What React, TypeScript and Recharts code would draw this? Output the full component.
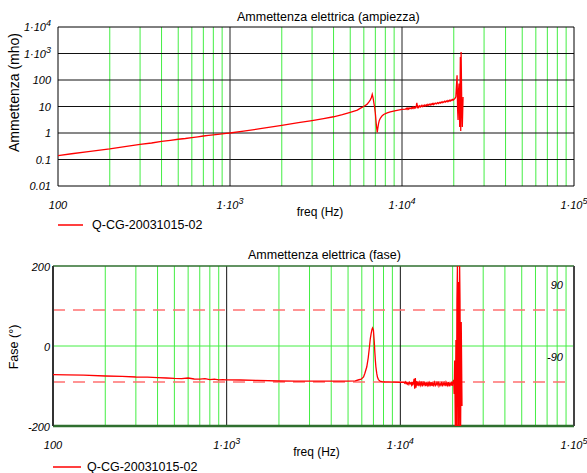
import { LineChart, Line, XAxis, YAxis, ReferenceLine, Legend } from "recharts";

const FONT = "'Liberation Sans', Arial, sans-serif";

const freqHz = [
  100, 120, 150, 200, 250, 300, 350, 400, 450, 500,
  550, 600, 650, 700, 750, 800, 850, 900, 950, 1000,
  1200, 1500, 2000, 2500, 3000, 3500, 4000, 4500, 5000, 5500,
  5710, 5950, 6140, 6250, 6410, 6531, 6640, 6714, 6790, 6870,
  6920, 7000, 7080, 7130, 7178, 7230, 7310, 7380, 7480, 7650,
  7820, 8200, 8550, 9200, 10000,
  10500, 10600, 10700, 10800, 10900, 11000, 11100, 11200, 11300, 11400,
  11500, 11600, 11700, 11800, 11900, 12000, 12100, 12200, 12300, 12400,
  12500, 12650, 12800, 12950, 13100, 13250, 13400, 13550, 13700, 13850,
  14000, 14150, 14300, 14450, 14600, 14750, 14900, 15050, 15200, 15350,
  15500, 15700, 15900, 16100, 16300, 16500, 16700, 16900, 17100, 17300,
  17500, 17700, 17900, 18100, 18300, 18500, 18700, 18900, 19100, 19300,
  19500, 19700, 19900,
  20000, 20280, 20420, 20560, 20730, 20900, 21050, 21180, 21320, 21460,
  21650, 21840, 21950, 22060, 22240, 22420, 22650,
];

const ampMho = [
  0.14, 0.165, 0.2, 0.25, 0.31, 0.37, 0.42, 0.48, 0.53, 0.58,
  0.62, 0.67, 0.72, 0.77, 0.81, 0.85, 0.89, 0.93, 0.97, 1.0,
  1.17, 1.45, 1.95, 2.45, 2.95, 3.5, 4.1, 4.9, 6.0, 7.3,
  8.5, 9.8, 11.2, 12, 14.5, 17.4, 22, 28.5, 21, 13,
  10, 5.5, 2.3, 1.5, 1.06, 1.5, 2.3, 3.0, 3.6, 4.4,
  5.0, 5.7, 6.3, 7.0, 7.8,
  8.0, 8.5, 7.8, 8.6, 8.0, 8.9, 8.2, 8.4, 9.0, 8.3,
  9.2, 8.6, 9.5, 8.7, 9.4, 8.9, 10.5, 13.8, 8.6, 10.2,
  9.3, 10.6, 9.6, 10.9, 9.9, 11.1, 10.2, 11.4, 10.5, 11.6,
  10.8, 12.0, 11.1, 12.2, 11.4, 12.6, 11.7, 12.9, 11.9, 13.2,
  12.3, 13.5, 12.6, 14.0, 13.0, 14.3, 13.4, 14.8, 13.8, 15.2,
  14.3, 15.8, 14.8, 16.3, 15.2, 16.8, 15.6, 17.3, 16.1, 17.8,
  16.7, 18.4, 17.6,
  18.5, 20, 21, 23, 60, 150, 8, 3.1, 40, 74,
  1.7, 740, 1.2, 1140, 17, 1.7, 23,
];

const phaseDeg = [
  -71.5, -72, -73, -75, -76, -77.5, -78, -79, -80, -81,
  -81.5, -80, -82.5, -83, -81.5, -84, -83, -84.5, -84, -84.5,
  -85, -86, -87.5, -88, -88, -88, -88, -88, -88, -87,
  -85, -83, -77.5, -68, -52, -30, -2.5, 18, 31, 42,
  45, 39, 10, -15, -35, -52, -68, -77.5, -84, -88,
  -89, -90, -90, -90.5, -91,
  -91, -93, -90, -94, -91, -95, -92, -96, -91, -94,
  -92, -97, -90, -96, -93, -82, -107, -80, -104, -88,
  -99, -90, -100, -91, -98, -89, -101, -92, -97, -90,
  -100, -93, -98, -89, -101, -92, -97, -90, -100, -93,
  -98, -91, -101, -92, -97, -89, -100, -94, -98, -90,
  -101, -93, -97, -91, -100, -92, -98, -90, -101, -93,
  -97, -89, -100,
  -93, -85, -120, -36, -200, 15, -200, 115, 200, -200,
  160, -200, 200, 114, -200, 60, -150,
];

const seriesName = "Q-CG-20031015-02";

const xTicks = [100, 1000, 10000, 100000];
const xTickBase = ["100", "1·10", "1·10", "1·10"];
const xTickExp = ["", "3", "4", "5"];

const ampTicks = [0.01, 0.1, 1, 10, 100, 1000, 10000];
const ampTickBase = ["0.01", "0.1", "1", "10", "100", "1·10", "1·10"];
const ampTickExp = ["", "", "", "", "", "3", "4"];

const phaseTicks = [-200, 0, 200];
const phaseTickBase = ["-200", "0", "200"];
const phaseTickExp = ["", "", ""];

const minorFreqs = [
  200, 300, 400, 500, 600, 700, 800, 900,
  2000, 3000, 4000, 5000, 6000, 7000, 8000, 9000,
  20000, 30000, 40000, 50000, 60000, 70000, 80000, 90000,
];
const decadeFreqs = [1000, 10000];
const ampDecades = [0.1, 1, 10, 100, 1000];
const phaseMarks = [90, -90];
const phaseMarkLabels = ["90", "-90"];

const ampData = freqHz.map((f, i) => ({ f, amp: ampMho[i] }));
const phaseData = freqHz.map((f, i) => ({ f, phase: phaseDeg[i] }));

function makeTick(values: number[], bases: string[], exps: string[], anchor: string, dx: number, dy: number) {
  return (props: any) => {
    const { x, y, payload } = props;
    const i = values.indexOf(payload.value);
    if (i < 0) return <g />;
    return (
      <text x={x + dx} y={y + dy} textAnchor={anchor} fontSize={11} fontStyle="italic" fill="#000" fontFamily={FONT}>
        {bases[i]}
        {exps[i] ? <tspan dy={-5} fontSize={9}>{exps[i]}</tspan> : null}
      </text>
    );
  };
}

function XTitle({ viewBox, text, dx, dy }: any) {
  if (!viewBox) return null;
  return (
    <text x={viewBox.x + viewBox.width / 2 + dx} y={viewBox.y + dy} textAnchor="middle" fontSize={12} fill="#000" fontFamily={FONT}>
      {text}
    </text>
  );
}

function YTitle({ viewBox, text, dy, size }: any) {
  if (!viewBox) return null;
  const cx = viewBox.x + 14;
  const cy = viewBox.y + viewBox.height / 2 + dy;
  return (
    <text x={cx} y={cy} transform={`rotate(-90 ${cx} ${cy})`} textAnchor="middle" dominantBaseline="central" fontSize={size} fill="#000" fontFamily={FONT}>
      {text}
    </text>
  );
}

function MarkLabel({ viewBox, text }: any) {
  if (!viewBox) return null;
  return (
    <text x={viewBox.x + viewBox.width - 11} y={viewBox.y - 21} textAnchor="end" fontSize={11} fontStyle="italic" fill="#000" fontFamily={FONT}>
      {text}
    </text>
  );
}

function legendContent(lineLen: number) {
  return (props: any) => {
    const item = props.payload && props.payload[0];
    if (!item) return null;
    return (
      <div style={{ display: "flex", alignItems: "center", height: 14, fontFamily: FONT, fontSize: 12.5 }}>
        <svg width={34} height={14}>
          <line x1={0} y1={7} x2={lineLen} y2={7} stroke={item.color} strokeWidth={1.5} />
        </svg>
        <span>{item.value}</span>
      </div>
    );
  };
}

const titleStyle = (left: number, top: number): any => ({
  position: "absolute",
  left,
  top,
  fontFamily: FONT,
  fontSize: 12.5,
  lineHeight: "14px",
  whiteSpace: "nowrap",
});

export default function App() {
  return (
    <div style={{ position: "absolute", left: 0, top: 0, width: 587, height: 473, background: "#fff", fontFamily: FONT }}>
      <div style={{ position: "absolute", left: 0, top: 0 }}>
        <LineChart width={587} height={240} data={ampData} margin={{ top: 27, right: 13, bottom: 24, left: 0 }}>
          <XAxis
            dataKey="f"
            type="number"
            scale="log"
            domain={[100, 100000]}
            ticks={xTicks}
            interval={0}
            allowDataOverflow
            height={30}
            tickLine={false}
            axisLine={false}
            tickSize={0}
            tick={makeTick(xTicks, xTickBase, xTickExp, "middle", 0, 21)}
            label={<XTitle text="freq (Hz)" dx={4} dy={30} />}
          />
          <YAxis
            type="number"
            scale="log"
            domain={[0.01, 10000]}
            ticks={ampTicks}
            interval={0}
            allowDataOverflow
            width={58}
            tickLine={false}
            axisLine={false}
            tickSize={0}
            tick={makeTick(ampTicks, ampTickBase, ampTickExp, "end", -5, 4)}
            label={<YTitle text="Ammettenza (mho)" dy={-14} size={14} />}
          />
          {minorFreqs.map((f) => (
            <ReferenceLine key={"m" + f} x={f} stroke="#44ee44" strokeWidth={1} />
          ))}
          {ampDecades.map((v) => (
            <ReferenceLine key={"h" + v} y={v} stroke="#111" strokeWidth={1} />
          ))}
          {decadeFreqs.map((f) => (
            <ReferenceLine key={"d" + f} x={f} stroke="#222" strokeWidth={1} />
          ))}
          <ReferenceLine x={100} stroke="#000" strokeWidth={1} />
          <ReferenceLine x={100000} stroke="#000" strokeWidth={1} />
          <ReferenceLine y={0.01} stroke="#000" strokeWidth={1} />
          <ReferenceLine y={10000} stroke="#000" strokeWidth={1} />
          <Line
            type="linear"
            dataKey="amp"
            name={seriesName}
            stroke="#ff0000"
            strokeWidth={1.3}
            dot={false}
            isAnimationActive={false}
          />
          <Legend
            layout="horizontal"
            verticalAlign="middle"
            align="center"
            wrapperStyle={{ top: 218, left: 58, width: 300 }}
            content={legendContent(25)}
          />
        </LineChart>
        <div style={titleStyle(237, 10)}>Ammettenza elettrica (ampiezza)</div>
      </div>
      <div style={{ position: "absolute", left: 0, top: 240 }}>
        <LineChart width={587} height={233} data={phaseData} margin={{ top: 26, right: 13, bottom: 17, left: 0 }}>
          <XAxis
            dataKey="f"
            type="number"
            scale="log"
            domain={[100, 100000]}
            ticks={xTicks}
            interval={0}
            allowDataOverflow
            height={30}
            tickLine={false}
            axisLine={false}
            tickSize={0}
            tick={makeTick(xTicks, xTickBase, xTickExp, "middle", 0, 21)}
            label={<XTitle text="freq (Hz)" dx={3} dy={30} />}
          />
          <YAxis
            type="number"
            domain={[-200, 200]}
            ticks={phaseTicks}
            interval={0}
            allowDataOverflow
            width={53}
            tickLine={false}
            axisLine={false}
            tickSize={0}
            tick={makeTick(phaseTicks, phaseTickBase, phaseTickExp, "end", -1, 5)}
            label={<YTitle text="Fase (°)" dy={1} size={12.5} />}
          />
          {minorFreqs.map((f) => (
            <ReferenceLine key={"m" + f} x={f} stroke="#44ee44" strokeWidth={1} />
          ))}
          <ReferenceLine y={0} stroke="#44ee44" strokeWidth={1} />
          {decadeFreqs.map((f) => (
            <ReferenceLine key={"d" + f} x={f} stroke="#111" strokeWidth={1} />
          ))}
          {phaseMarks.map((v, i) => (
            <ReferenceLine
              key={"p" + v}
              y={v}
              stroke="#ff7070"
              strokeWidth={1.5}
              strokeDasharray="12 8"
              label={<MarkLabel text={phaseMarkLabels[i]} />}
            />
          ))}
          <ReferenceLine y={200} stroke="#2f6f2f" strokeWidth={1.5} />
          <ReferenceLine y={-200} stroke="#2f6f2f" strokeWidth={2.5} />
          <ReferenceLine x={100} stroke="#333" strokeWidth={2} />
          <ReferenceLine x={100000} stroke="#444" strokeWidth={2} />
          <Line
            type="linear"
            dataKey="phase"
            name={seriesName}
            stroke="#ff0000"
            strokeWidth={1.3}
            dot={false}
            isAnimationActive={false}
          />
          <Legend
            layout="horizontal"
            verticalAlign="middle"
            align="center"
            wrapperStyle={{ top: 220, left: 53, width: 300 }}
            content={legendContent(28)}
          />
        </LineChart>
        <div style={titleStyle(248, 8)}>Ammettenza elettrica (fase)</div>
      </div>
    </div>
  );
}
